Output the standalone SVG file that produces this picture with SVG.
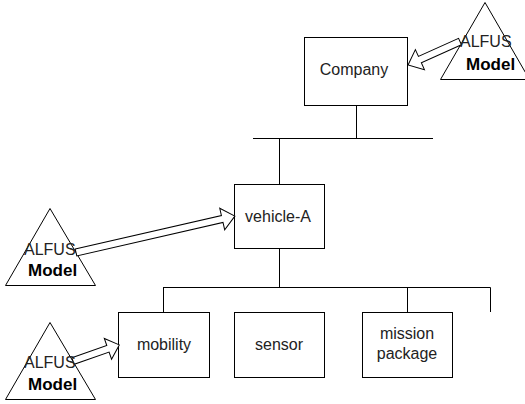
<svg xmlns="http://www.w3.org/2000/svg" width="525" height="404" viewBox="0 0 525 404">
  <style>
    .box { fill: #fff; stroke: #000; stroke-width: 1; }
    .line { fill: none; stroke: #000; stroke-width: 1; }
    .tri { fill: #fff; stroke: #000; stroke-width: 1; }
    .arrow { fill: #fff; stroke: #000; stroke-width: 1; stroke-linejoin: miter; }
    .lbl { font-family: "Liberation Sans", Arial, sans-serif; font-size: 16px; fill: #222; text-anchor: middle; }
    .alfus { font-family: "Liberation Sans", Arial, sans-serif; font-size: 16px; fill: #222; }
    .model { font-family: "Liberation Sans", Arial, sans-serif; font-size: 17px; font-weight: bold; fill: #000; }
  </style>
  <rect width="525" height="404" fill="#fff"/>

  <!-- tree connectors -->
  <g id="connectors">
    <path class="line" d="M356.5,105 V138.5 M253,138.5 H433 M279.5,138.5 V184"/>
    <path class="line" d="M279.5,248 V287.5 M163,287.5 H490.5 M163.5,287.5 V312 M407.5,287.5 V312 M490.5,287.5 V312"/>
  </g>

  <!-- hierarchy nodes -->
  <g id="company">
    <rect class="box" x="304.5" y="37.5" width="103" height="68"/>
    <text class="lbl" x="354" y="75">Company</text>
  </g>
  <g id="vehicle-a">
    <rect class="box" x="234.5" y="184.5" width="90" height="64"/>
    <text class="lbl" x="278" y="222">vehicle-A</text>
  </g>
  <g id="mobility">
    <rect class="box" x="118.5" y="312.5" width="91" height="65"/>
    <text class="lbl" x="164" y="350">mobility</text>
  </g>
  <g id="sensor">
    <rect class="box" x="234.5" y="312.5" width="90" height="65"/>
    <text class="lbl" x="279" y="350">sensor</text>
  </g>
  <g id="mission-package">
    <rect class="box" x="362.5" y="312.5" width="90" height="65"/>
    <text class="lbl" x="407" y="339">mission</text>
    <text class="lbl" x="407" y="359">package</text>
  </g>

  <!-- ALFUS model markers -->
  <g id="alfus-top">
    <polygon class="tri" points="485,2.5 440.5,79.5 529.5,79.5"/>
  </g>
  <g id="alfus-mid">
    <polygon class="tri" points="50,208.5 5.5,285.5 95.5,285.5"/>
  </g>
  <g id="alfus-bottom">
    <polygon class="tri" points="50,322.5 5.5,399.5 95.5,399.5"/>
  </g>

  <!-- block arrows from models to nodes -->
  <g id="model-arrows">
    <path class="arrow" transform="translate(460,41.5) rotate(155.7)" d="M0,-3.5 H44 V-11 L57,0 L44,11 V3.5 H0 Z"/>
    <path class="arrow" transform="translate(76,252.5) rotate(-12.9)" d="M0,-3.5 H150 V-11 L163,0 L150,11 V3.5 H0 Z"/>
    <path class="arrow" transform="translate(73,361) rotate(-19.2)" d="M0,-3.5 H37 V-11 L49,0 L37,11 V3.5 H0 Z"/>
  </g>

  <!-- model labels -->
  <g id="alfus-labels">
    <text class="alfus" x="460" y="47">ALFUS</text>
    <text class="model" x="466" y="70">Model</text>
    <text class="alfus" x="24" y="255">ALFUS</text>
    <text class="model" x="28" y="276">Model</text>
    <text class="alfus" x="24" y="368">ALFUS</text>
    <text class="model" x="28" y="390">Model</text>
  </g>
</svg>
